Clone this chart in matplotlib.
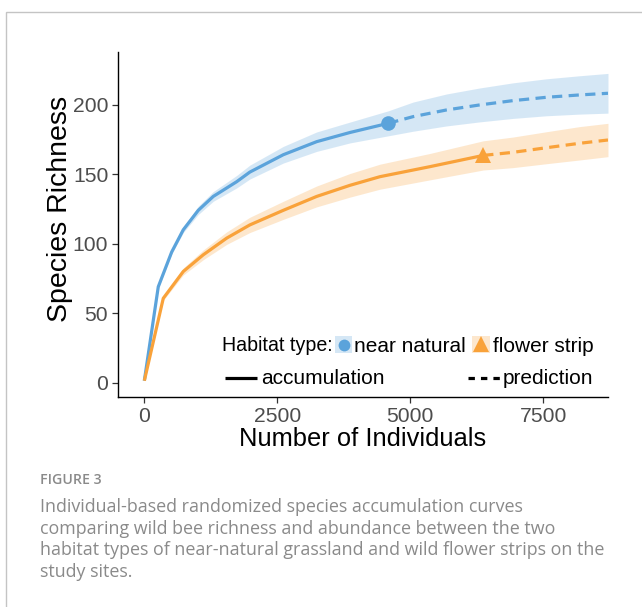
import matplotlib
matplotlib.use("Agg")
import matplotlib.pyplot as plt
from matplotlib.lines import Line2D
from matplotlib.patches import Rectangle

# Near-natural grassland: rarefied (accumulation) part
nn_obs_x = [1, 263, 515, 733, 1015, 1297, 1737, 1984, 2613, 3241, 3867, 4587]
nn_obs_y = [1.4, 69, 94, 110, 124, 134, 144.6, 151.5, 164, 173.4, 180, 186.6]
nn_obs_lo = [1.4, 68, 92.5, 108, 121, 130.5, 140.1, 146.5, 158, 166.4, 172.5, 177.6]
nn_obs_hi = [1.4, 70, 95.5, 112, 127, 137.5, 149.1, 156.5, 170, 180.4, 187.5, 195.6]
# Near-natural grassland: extrapolated (prediction) part
nn_ext_x = [4587, 5053, 5680, 6301, 6927, 7553, 8178, 8716]
nn_ext_y = [186.6, 191.4, 196.2, 199.8, 202.9, 205.3, 207.0, 208.2]
nn_ext_lo = [177.6, 180.9, 184.7, 187.6, 190.1, 192.0, 193.2, 193.9]
nn_ext_hi = [195.6, 201.9, 207.7, 212.0, 215.7, 218.6, 220.8, 222.5]

# Flower strips: rarefied part
fs_obs_x = [1, 357, 733, 1109, 1549, 1984, 2613, 3241, 3867, 4430, 5368, 6371]
fs_obs_y = [1.4, 60.7, 80, 92, 104, 113.5, 124, 134, 142, 148.2, 155.4, 163.5]
fs_obs_lo = [1.4, 59.2, 77.5, 88.5, 99.5, 108, 117.5, 126.5, 133.5, 139.2, 145.9, 153]
fs_obs_hi = [1.4, 62.2, 82.5, 95.5, 108.5, 119, 130.5, 141.5, 150.5, 157.2, 164.9, 174]
# Flower strips: extrapolated part
fs_ext_x = [6371, 6927, 7553, 8178, 8716]
fs_ext_y = [163.5, 165.7, 169.0, 172.2, 174.6]
fs_ext_lo = [153, 154.7, 157.5, 160.2, 162.6]
fs_ext_hi = [174, 176.7, 180.5, 184.2, 186.6]

x_ticks = [0, 2500, 5000, 7500]
y_ticks = [0, 50, 100, 150, 200]

BLUE = "#5BA3DB"
ORANGE = "#F9A23A"
W, H = 642, 607

fig = plt.figure(figsize=(W / 100, H / 100), dpi=100)
plt.rcParams["font.family"] = ["Liberation Sans", "DejaVu Sans"]


def fx(px):
    return px / W


def fy(py):
    return 1 - py / H


# outer panel frame
fig.add_artist(Rectangle((fx(6), fy(700)), fx(700), fy(12) - fy(700),
                         transform=fig.transFigure, fill=False,
                         edgecolor="#c4c4c4", linewidth=1.0))

ax = fig.add_axes([fx(118), fy(397), fx(608) - fx(118), fy(52) - fy(397)])
ax.set_xlim(-494, 8716)
ax.set_ylim(-10.3, 237.9)

for (x, y, lo, hi, col) in [
    (nn_obs_x, nn_obs_y, nn_obs_lo, nn_obs_hi, BLUE),
    (nn_ext_x, nn_ext_y, nn_ext_lo, nn_ext_hi, BLUE),
    (fs_obs_x, fs_obs_y, fs_obs_lo, fs_obs_hi, ORANGE),
    (fs_ext_x, fs_ext_y, fs_ext_lo, fs_ext_hi, ORANGE),
]:
    ax.fill_between(x, lo, hi, color=col, alpha=0.25, linewidth=0)

ax.plot(nn_obs_x, nn_obs_y, color=BLUE, lw=2.3, solid_capstyle="butt")
ax.plot(nn_ext_x, nn_ext_y, color=BLUE, lw=2.3, ls=(0, (3.2, 2.0)))
ax.plot(fs_obs_x, fs_obs_y, color=ORANGE, lw=2.3, solid_capstyle="butt")
ax.plot(fs_ext_x, fs_ext_y, color=ORANGE, lw=2.3, ls=(0, (3.2, 2.0)))
ax.plot([nn_obs_x[-1]], [nn_obs_y[-1]], "o", color=BLUE, ms=10.5, mew=0)
ax.plot([fs_obs_x[-1]], [fs_obs_y[-1]], "^", color=ORANGE, ms=12, mew=0)

for s in ["top", "right"]:
    ax.spines[s].set_visible(False)
for s in ["left", "bottom"]:
    ax.spines[s].set_linewidth(1.0)
    ax.spines[s].set_color("black")
ax.set_xticks(x_ticks)
ax.set_yticks(y_ticks)
ax.tick_params(length=4, width=0.9, color="#333333", labelcolor="#4d4d4d",
               labelsize=15.2, pad=3)
ax.set_xlabel("Number of Individuals", fontsize=18.4, labelpad=1)
fig.text(fx(60), fy(209), "Species Richness", fontsize=20.5, rotation=90,
         va="center", ha="center")

# legend drawn in figure pixel space
LS = 15.0
fig.text(fx(222), fy(345), "Habitat type:", fontsize=14.1, va="center", ha="left")
fig.add_artist(Rectangle((fx(335), fy(353)), fx(17), fy(336) - fy(353),
                         transform=fig.transFigure, color=BLUE, alpha=0.25, lw=0))
fig.add_artist(Line2D([fx(343.5)], [fy(345)], marker="o", ms=8.5, mew=0,
                      color=BLUE, transform=fig.transFigure))
fig.text(fx(354), fy(346), "near natural", fontsize=LS, va="center", ha="left")
fig.add_artist(Rectangle((fx(472), fy(353)), fx(18), fy(336) - fy(353),
                         transform=fig.transFigure, color=ORANGE, alpha=0.25, lw=0))
fig.add_artist(Line2D([fx(481)], [fy(344)], marker="^", ms=11, mew=0,
                      color=ORANGE, transform=fig.transFigure))
fig.text(fx(493), fy(346), "flower strip", fontsize=LS, va="center", ha="left")

fig.add_artist(Line2D([fx(225), fx(257)], [fy(377.5), fy(377.5)], color="black",
                      lw=2.3, transform=fig.transFigure, solid_capstyle="butt"))
fig.text(fx(261), fy(378), "accumulation", fontsize=LS, va="center", ha="left")
fig.add_artist(Line2D([fx(468), fx(500)], [fy(377.5), fy(377.5)], color="black",
                      lw=2.3, ls=(0, (2.0, 1.9)), transform=fig.transFigure))
fig.text(fx(503), fy(378), "prediction", fontsize=LS, va="center", ha="left")

# caption
CAP = "#8a8a8a"
fig.text(fx(40), fy(480), "FIGURE 3", fontsize=10.2, color=CAP, va="center",
         ha="left", family=["Open Sans", "DejaVu Sans"], fontweight="semibold")
caption = [
    "Individual-based randomized species accumulation curves",
    "comparing wild bee richness and abundance between the two",
    "habitat types of near-natural grassland and wild flower strips on the",
    "study sites.",
]
for i, line in enumerate(caption):
    fig.text(fx(40), fy(507 + i * 21.7), line, fontsize=12.9, color=CAP,
             va="center", ha="left", family=["Open Sans", "DejaVu Sans"])

fig.savefig("out.png", dpi=100)
